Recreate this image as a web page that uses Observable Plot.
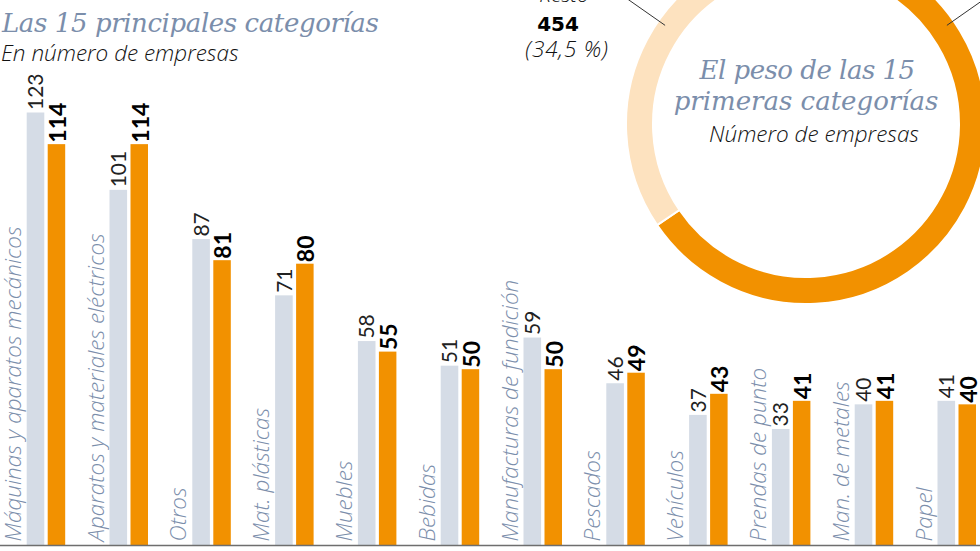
<!DOCTYPE html>
<html>
<head>
<meta charset="utf-8">
<script src="https://cdn.jsdelivr.net/npm/d3@7"></script>
<script src="https://cdn.jsdelivr.net/npm/@observablehq/plot@0.6"></script>
<style>
  html, body { margin: 0; padding: 0; background: #fff; }
  #wrap { position: relative; width: 980px; height: 551px; overflow: hidden; background: #fff; }
  #chart { position: absolute; left: 0; top: 0; }
  .t { position: absolute; white-space: nowrap; line-height: 1; }
  .serif { font-family: "DejaVu Serif", serif; font-style: italic; color: #7b8eab; }
  .sans { font-family: "Open Sans", Lato, sans-serif; }
</style>
</head>
<body>
<div id="wrap">
  <div id="chart"></div>
</div>
<script>
// ---- Data ----
const categories = [
  "Máquinas y aparatos mecánicos",
  "Aparatos y materiales eléctricos",
  "Otros",
  "Mat. plásticas",
  "Muebles",
  "Bebidas",
  "Manufacturas de fundición",
  "Pescados",
  "Vehículos",
  "Prendas de punto",
  "Man. de metales",
  "Papel"
];
const prevValues = [123, 101, 87, 71, 58, 51, 59, 46, 37, 33, 40, 41];
const currValues = [114, 114, 81, 80, 55, 50, 50, 49, 43, 41, 41, 40];

const donutNames = ["15 primeras categorías", "Resto"];
const donutValues = [862, 454];
const restoLabel = "Resto";
const restoValue = "454";
const restoPct = "(34,5 %)";
const leaderAngles = [55, 305];

// ---- Build rows ----
const rows = categories.map((c, i) => ({cat: c, prev: prevValues[i], curr: currValues[i]}));

const BAND = 82.8;
const COLORS = {prev: "#d5dce6", curr: "#f29100", resto: "#fde2bf", slate: "#7b8eab"};

const donutMark = (index, scales, values, dimensions) => {
  const cx = 806, cy = 124, r0 = 153, r1 = 180;
  const g = d3.create("svg:g").attr("transform", `translate(${cx},${cy})`);
  const pie = d3.pie().sort(null).value(d => d)(donutValues);
  const arc = d3.arc().innerRadius(r0).outerRadius(r1);
  g.selectAll("path.seg").data(pie).join("path")
    .attr("class", "seg")
    .attr("d", arc)
    .attr("fill", (d, i) => i === 0 ? COLORS.curr : COLORS.resto)
    .attr("stroke", "#fff")
    .attr("stroke-width", 2);
  g.selectAll("line.leader").data(leaderAngles).join("line")
    .attr("class", "leader")
    .attr("x1", a => 172 * Math.sin(a * Math.PI / 180))
    .attr("y1", a => -172 * Math.cos(a * Math.PI / 180))
    .attr("x2", a => 260 * Math.sin(a * Math.PI / 180))
    .attr("y2", a => -260 * Math.cos(a * Math.PI / 180))
    .attr("stroke", "#333")
    .attr("stroke-width", 1);
  return g.node();
};

const chart = Plot.plot({
  width: 980,
  height: 551,
  margin: 0,
  style: {background: "transparent", overflow: "hidden"},
  x: {type: "band", domain: categories, range: [0, BAND * categories.length], padding: 0, round: false, axis: null},
  y: {domain: [0, 123], range: [545, 112.5], axis: null},
  marks: [
    donutMark,
    Plot.barY(rows, {x: "cat", y: "prev", fill: COLORS.prev, insetLeft: 26.7, insetRight: BAND - 44.3}),
    Plot.barY(rows, {x: "cat", y: "curr", fill: COLORS.curr, insetLeft: 47.7, insetRight: BAND - 65.2}),
    Plot.ruleY([0], {stroke: "#6e6e6e", strokeWidth: 1.5}),
    Plot.text(rows, {x: "cat", y: () => 0, text: "cat", rotate: -90, textAnchor: "start",
      dx: 13 - BAND / 2, dy: -4, fill: COLORS.slate, fontSize: 22.5, fontStyle: "italic",
      fontFamily: "'Open Sans', sans-serif", fontWeight: 300}),
    Plot.text(rows, {x: "cat", y: "prev", text: d => String(d.prev), rotate: -90, textAnchor: "start",
      dx: 36 - BAND / 2, dy: -3, fill: "#222", fontSize: 21, fontFamily: "Lato, sans-serif", fontWeight: 400}),
    Plot.text(rows, {x: "cat", y: "curr", text: d => String(d.curr), rotate: -90, textAnchor: "start",
      dx: 58 - BAND / 2, dy: -2, fill: "#000", fontSize: 23, fontFamily: "Lato, sans-serif", fontWeight: "bold",
      letterSpacing: "-1px"})
  ]
});
document.getElementById("chart").appendChild(chart);

// ---- Text blocks (HTML overlays) ----
const wrap = document.getElementById("wrap");
function place(text, {x, baseline, size, cls, anchor = "start", asc = 0.888, style = ""}) {
  const d = document.createElement("div");
  d.className = "t " + cls;
  d.textContent = text;
  d.style.cssText += `font-size:${size}px;top:${baseline - asc * size}px;${style}`;
  d.style.left = x + "px";
  if (anchor === "middle") d.style.transform = "translateX(-50%)";
  wrap.appendChild(d);
}
const SERIF_ASC = 0.846;
place("Las 15 principales categorías", {x: 2, baseline: 32, size: 26, cls: "serif", asc: SERIF_ASC, style: "letter-spacing:-0.4px;"});
place("En número de empresas", {x: 1, baseline: 62, size: 22.5, cls: "sans", style: "font-style:italic;font-weight:300;color:#111;"});

place("El peso de las 15", {x: 807, baseline: 79, size: 26, cls: "serif", anchor: "middle", asc: SERIF_ASC, style: "letter-spacing:-0.5px;"});
place("primeras categorías", {x: 806, baseline: 110, size: 26, cls: "serif", anchor: "middle", asc: SERIF_ASC});
place("Número de empresas", {x: 814, baseline: 143, size: 22.5, cls: "sans", anchor: "middle", style: "font-style:italic;font-weight:300;color:#111;"});

place(restoLabel, {x: 564, baseline: 3, size: 21, cls: "sans", anchor: "middle", style: "font-style:italic;font-weight:300;color:#111;"});
place(restoValue, {x: 558, baseline: 31, size: 20, cls: "sans", anchor: "middle", asc: 0.846, style: "font-family:'DejaVu Sans',sans-serif;font-weight:bold;color:#000;"});
place(restoPct, {x: 567, baseline: 58, size: 22.5, cls: "sans", anchor: "middle", style: "font-style:italic;font-weight:300;color:#111;letter-spacing:0.8px;"});
</script>
</body>
</html>
